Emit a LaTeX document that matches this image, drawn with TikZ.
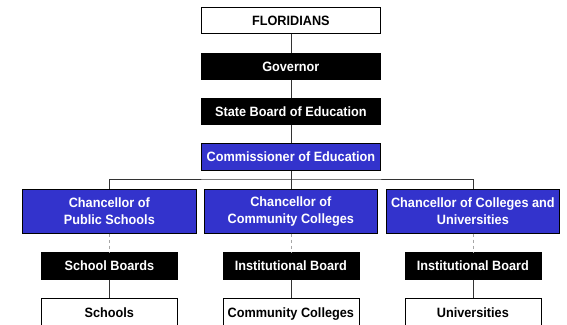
\documentclass[tikz,border=0pt]{standalone}
\usepackage{fontspec}
\setmainfont[FakeStretch=0.94]{Liberation Sans}
\definecolor{chanblue}{HTML}{3333CC}
\begin{document}
\begin{tikzpicture}[x=1pt,y=-1pt,
  box/.style={draw=black,line width=0.7pt,anchor=north west,inner sep=0pt,
    font=\fontsize{13.5}{17.4}\selectfont\bfseries,align=center},
  oneline/.style={text height=10pt,text depth=0.6pt},
  whitebox/.style={box,oneline,fill=white,text=black},
  blackbox/.style={box,oneline,fill=black,text=white},
  bluebox/.style={box,fill=chanblue,text=white},
  link/.style={draw=black!80,line width=0.7pt},
  faint/.style={draw=black!35,line width=0.5pt,dashed}]
\useasboundingbox (0,0) rectangle (567,324);
% top chain
\node[whitebox,minimum width=179pt,minimum height=26pt] (flo) at (201,7) {FLORIDIANS};
\node[blackbox,minimum width=179pt,minimum height=26pt] (gov) at (201,53) {Governor};
\node[blackbox,minimum width=179pt,minimum height=26pt] (sbe) at (201,98) {State Board of Education};
\node[bluebox,oneline,minimum width=179pt,minimum height=27pt] (com) at (201,143) {Commissioner of Education};
% chancellors
\node[bluebox,minimum width=174pt,minimum height=44pt] (c1) at (22,189) {Chancellor of\\Public Schools};
\node[bluebox,minimum width=173pt,minimum height=44pt] (c2) at (204,189) {Chancellor of\\Community Colleges};
\node[bluebox,minimum width=173pt,minimum height=44pt] (c3) at (386,189) {Chancellor of Colleges and\\Universities};
% boards
\node[blackbox,minimum width=136pt,minimum height=27pt] (b1) at (41,252) {School Boards};
\node[blackbox,minimum width=136pt,minimum height=27pt] (b2) at (222.5,252) {Institutional Board};
\node[blackbox,minimum width=136pt,minimum height=27pt] (b3) at (404.5,252) {Institutional Board};
% institutions
\node[whitebox,minimum width=136pt,minimum height=28pt] (i1) at (41,298) {Schools};
\node[whitebox,minimum width=136pt,minimum height=28pt] (i2) at (222.5,298) {Community Colleges};
\node[whitebox,minimum width=136pt,minimum height=28pt] (i3) at (404.5,298) {Universities};
% connectors
\draw[link] (flo.south) -- (gov.north);
\draw[link] (gov.south) -- (sbe.north);
\draw[link] (sbe.south) -- (com.north);
\coordinate (bus) at (com.south |- 0,179);
\draw[link] (com.south) -- (bus);
\draw[link] (c1.north) |- (bus) -| (c3.north);
\draw[link] (bus) -- (c2.north);
\draw[faint] (c1.south) -- (b1.north);
\draw[faint] (c2.south) -- (b2.north);
\draw[faint] (c3.south) -- (b3.north);
\draw[link] (b1.south) -- (i1.north);
\draw[link] (b2.south) -- (i2.north);
\draw[link] (b3.south) -- (i3.north);
\end{tikzpicture}
\end{document}
